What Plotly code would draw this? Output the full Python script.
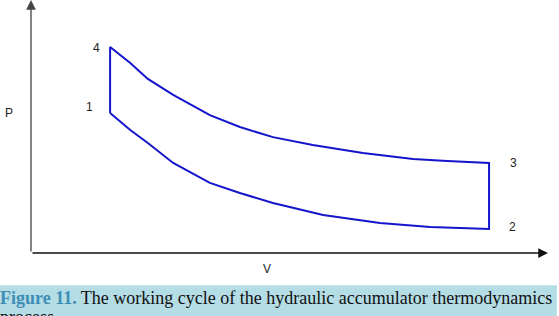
import plotly.graph_objects as go

# Compression branch 1 -> 2 (lower curve)
v_lower = [15.3, 19.2, 22.6, 27.5, 34.6, 40.4, 46.8, 56.5, 67.5, 77.2, 88.6]
p_lower = [55.3, 48.6, 43.5, 35.6, 27.7, 23.7, 19.8, 15.0, 11.9, 10.3, 9.5]
# Expansion branch 4 -> 3 (upper curve)
v_upper = [15.3, 19.2, 22.6, 27.5, 34.6, 40.4, 46.8, 54.5, 64.2, 73.9, 80.5, 88.6]
p_upper = [81.4, 75.1, 68.8, 62.5, 54.5, 49.8, 45.8, 42.7, 39.5, 37.2, 36.4, 35.6]

state_labels = ["1", "2", "3", "4"]
caption_bold = "Figure 11."
caption_rest = " The working cycle of the hydraulic accumulator thermodynamics"
caption_line2 = "process."

# cycle: 1 -> 2 -> 3 -> 4 -> 1
cycle_v = v_lower + v_upper[::-1] + [v_lower[0]]
cycle_p = p_lower + p_upper[::-1] + [p_lower[0]]

fig = go.Figure()
fig.add_trace(go.Scatter(x=cycle_v, y=cycle_p, mode="lines",
                         line=dict(color="#1414cc", width=2), hoverinfo="skip"))

state_pts = {
    "1": (v_lower[0], p_lower[0], -21, 6),
    "2": (v_lower[-1], p_lower[-1], 23, 2),
    "3": (v_upper[-1], p_upper[-1], 24, 0),
    "4": (v_upper[0], p_upper[0], -14, -1),
}
label_font = dict(family="Liberation Sans, Arial, sans-serif", size=12, color="#222")
for lab in state_labels:
    x, y, dx, dy = state_pts[lab]
    fig.add_annotation(x=x, y=y, text=lab, showarrow=False, xshift=dx, yshift=dy,
                       font=label_font)

# axes as arrows
fig.add_annotation(x=100, y=0, ax=0, ay=0, axref="x", ayref="y", xref="x", yref="y",
                   text="", showarrow=True, arrowhead=2, arrowsize=1.5, arrowwidth=1.3,
                   arrowcolor="#111")
fig.add_annotation(x=0, y=100, ax=0, ay=0, axref="x", ayref="y", xref="x", yref="y",
                   text="", showarrow=True, arrowhead=2, arrowsize=1.5, arrowwidth=1.3,
                   arrowcolor="#444")

fig.add_annotation(x=-0.043, y=0.553, xref="paper", yref="paper", text="P",
                   xanchor="center", yanchor="middle", showarrow=False, font=label_font)
fig.add_annotation(x=0.456, y=-0.063, xref="paper", yref="paper", text="V",
                   xanchor="center", yanchor="middle", showarrow=False, font=label_font)

# caption band
fig.add_shape(type="rect", xref="paper", yref="paper", x0=-0.07, x1=1.017,
              y0=-0.127, y1=-0.3, fillcolor="#b4dde6", line=dict(width=0), layer="below")
cap_font = dict(family="Liberation Serif, Times New Roman, serif", size=18, color="#111")
fig.add_annotation(x=-0.064, y=-0.178, xref="paper", yref="paper", xanchor="left",
                   yanchor="middle", showarrow=False, align="left",
                   text=f"<b><span style='color:#3f8db5'>{caption_bold}</span></b>{caption_rest}",
                   font=cap_font)
fig.add_annotation(x=-0.064, y=-0.252, xref="paper", yref="paper", xanchor="left",
                   yanchor="middle", showarrow=False, align="left",
                   text=caption_line2, font=cap_font)

fig.update_xaxes(range=[0, 100], visible=False, fixedrange=True)
fig.update_yaxes(range=[0, 100], visible=False, fixedrange=True)
fig.update_layout(width=559, height=316, margin=dict(l=31, r=11, t=0, b=63),
                  paper_bgcolor="white", plot_bgcolor="white", showlegend=False)
fig.write_html("out.html")
